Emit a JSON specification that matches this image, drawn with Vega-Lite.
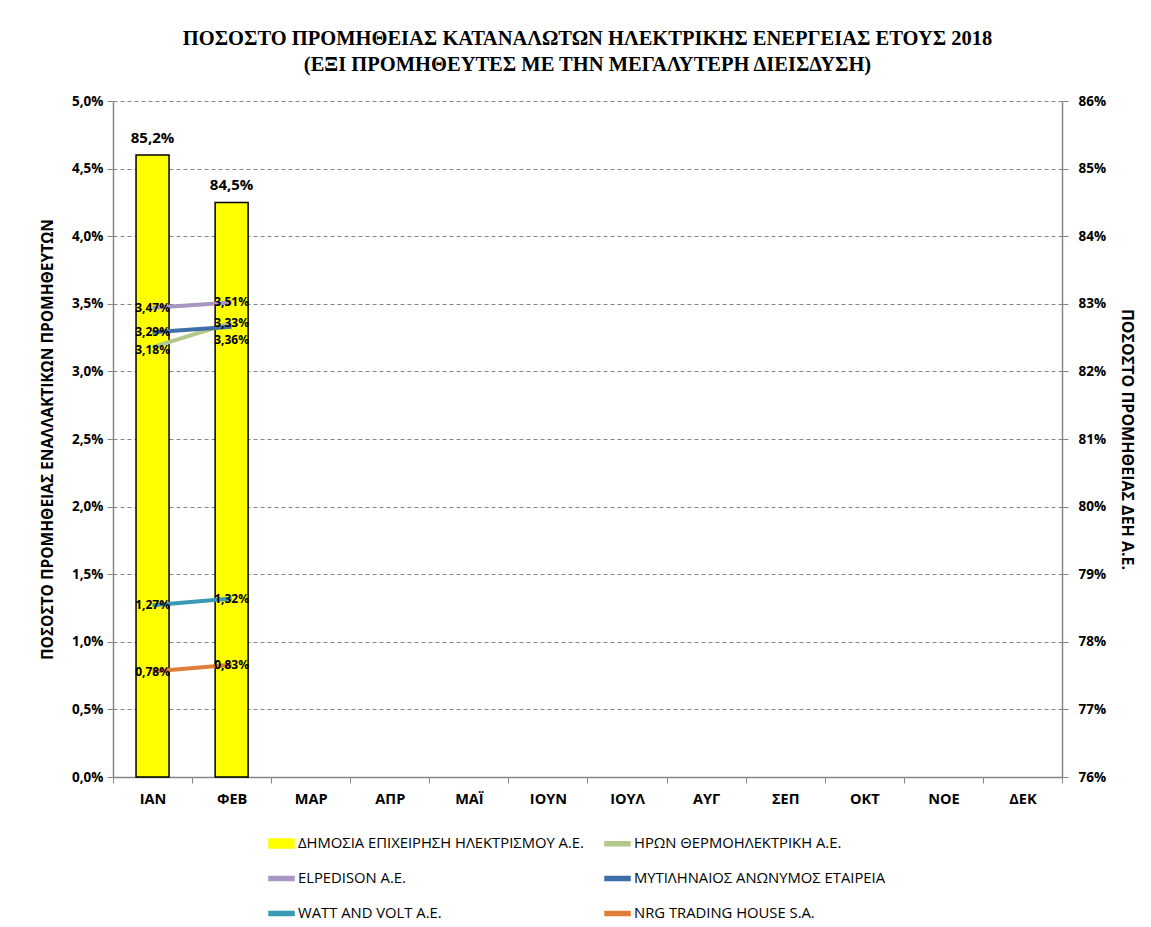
{
  "$schema": "https://vega.github.io/schema/vega-lite/v6.json",
  "width": 949,
  "height": 676,
  "autosize": {"type": "none"},
  "padding": {"left": 113, "top": 101, "right": 89, "bottom": 150},
  "background": "white",
  "title": {
    "text": ["ΠΟΣΟΣΤΟ ΠΡΟΜΗΘΕΙΑΣ ΚΑΤΑΝΑΛΩΤΩΝ ΗΛΕΚΤΡΙΚΗΣ ΕΝΕΡΓΕΙΑΣ ΕΤΟΥΣ 2018", "(ΕΞΙ ΠΡΟΜΗΘΕΥΤΕΣ ΜΕ ΤΗΝ ΜΕΓΑΛΥΤΕΡΗ ΔΙΕΙΣΔΥΣΗ)"],
    "font": "Liberation Serif",
    "fontSize": 20.5,
    "fontWeight": "bold",
    "color": "black",
    "lineHeight": 26,
    "offset": 19,
    "anchor": "middle"
  },
  "datasets": {
    "dei": [
      {"month": "ΙΑΝ", "series": "ΔΗΜΟΣΙΑ ΕΠΙΧΕΙΡΗΣΗ ΗΛΕΚΤΡΙΣΜΟΥ Α.Ε.", "value": 0.852},
      {"month": "ΦΕΒ", "series": "ΔΗΜΟΣΙΑ ΕΠΙΧΕΙΡΗΣΗ ΗΛΕΚΤΡΙΣΜΟΥ Α.Ε.", "value": 0.845}
    ],
    "others": [
      {"month": "ΙΑΝ", "series": "ΗΡΩΝ ΘΕΡΜΟΗΛΕΚΤΡΙΚΗ Α.Ε.", "value": 0.0318},
      {"month": "ΦΕΒ", "series": "ΗΡΩΝ ΘΕΡΜΟΗΛΕΚΤΡΙΚΗ Α.Ε.", "value": 0.0336},
      {"month": "ΙΑΝ", "series": "ELPEDISON Α.Ε.", "value": 0.0347},
      {"month": "ΦΕΒ", "series": "ELPEDISON Α.Ε.", "value": 0.0351},
      {"month": "ΙΑΝ", "series": "ΜΥΤΙΛΗΝΑΙΟΣ ΑΝΩΝΥΜΟΣ ΕΤΑΙΡΕΙΑ", "value": 0.0329},
      {"month": "ΦΕΒ", "series": "ΜΥΤΙΛΗΝΑΙΟΣ ΑΝΩΝΥΜΟΣ ΕΤΑΙΡΕΙΑ", "value": 0.0333},
      {"month": "ΙΑΝ", "series": "WATT AND VOLT Α.Ε.", "value": 0.0127},
      {"month": "ΦΕΒ", "series": "WATT AND VOLT Α.Ε.", "value": 0.0132},
      {"month": "ΙΑΝ", "series": "NRG TRADING HOUSE S.A.", "value": 0.0078},
      {"month": "ΦΕΒ", "series": "NRG TRADING HOUSE S.A.", "value": 0.0083}
    ]
  },
  "layer": [
    {
      "data": {"name": "dei"},
      "encoding": {
        "x": {"field": "month", "type": "nominal"},
        "y": {
          "field": "value", "type": "quantitative",
          "scale": {"domain": [0.76, 0.86], "zero": false, "nice": false, "clamp": true},
          "axis": {
            "orient": "right", "format": ".0%", "values": [0.76,0.77,0.78,0.79,0.80,0.81,0.82,0.83,0.84,0.85,0.86],
            "labelOverlap": false, "grid": false, "title": "ΠΟΣΟΣΤΟ ΠΡΟΜΗΘΕΙΑΣ ΔΕΗ Α.Ε.",
            "titlePadding": 13, "labelPadding": 10, "titleFontSize": 16
          }
        }
      },
      "layer": [
        {
          "mark": {"type": "bar", "size": 33, "stroke": "black", "strokeWidth": 1.5},
          "encoding": {
            "y2": {"datum": 0.76},
            "color": {"field": "series", "type": "nominal"}
          }
        },
        {
          "mark": {"type": "text", "baseline": "bottom", "dy": -9, "fontSize": 15, "fontWeight": "bold", "font": "Open Sans"},
          "encoding": {
            "text": {"field": "value", "type": "quantitative", "format": ".1%"},
            "color": {"value": "black"}
          }
        }
      ]
    },
    {
      "data": {"name": "others"},
      "encoding": {
        "x": {"field": "month", "type": "nominal"},
        "y": {
          "field": "value", "type": "quantitative",
          "scale": {"domain": [0, 0.05], "nice": false},
          "axis": {
            "orient": "left", "format": ".1%", "values": [0,0.005,0.01,0.015,0.02,0.025,0.03,0.035,0.04,0.045,0.05],
            "labelOverlap": false, "grid": true, "title": "ΠΟΣΟΣΤΟ ΠΡΟΜΗΘΕΙΑΣ ΕΝΑΛΛΑΚΤΙΚΩΝ ΠΡΟΜΗΘΕΥΤΩΝ",
            "titlePadding": 16, "labelPadding": 4, "titleFontSize": 15.5
          }
        }
      },
      "layer": [
        {
          "mark": {"type": "line", "strokeWidth": 4},
          "encoding": {
            "color": {"field": "series", "type": "nominal"}
          }
        },
        {
          "transform": [{"filter": "datum.series !== 'ΗΡΩΝ ΘΕΡΜΟΗΛΕΚΤΡΙΚΗ Α.Ε.' && !(datum.series === 'ΜΥΤΙΛΗΝΑΙΟΣ ΑΝΩΝΥΜΟΣ ΕΤΑΙΡΕΙΑ' && datum.month === 'ΦΕΒ')"}],
          "mark": {"type": "text", "baseline": "middle", "fontSize": 12, "fontWeight": "bold", "font": "Open Sans"},
          "encoding": {
            "text": {"field": "value", "type": "quantitative", "format": ".2%"},
            "color": {"value": "black"}
          }
        },
        {
          "transform": [{"filter": "datum.series === 'ΜΥΤΙΛΗΝΑΙΟΣ ΑΝΩΝΥΜΟΣ ΕΤΑΙΡΕΙΑ' && datum.month === 'ΦΕΒ'"}],
          "mark": {"type": "text", "baseline": "middle", "dy": -4, "fontSize": 12, "fontWeight": "bold", "font": "Open Sans"},
          "encoding": {
            "text": {"field": "value", "type": "quantitative", "format": ".2%"},
            "color": {"value": "black"}
          }
        },
        {
          "transform": [{"filter": "datum.series === 'ΗΡΩΝ ΘΕΡΜΟΗΛΕΚΤΡΙΚΗ Α.Ε.' && datum.month === 'ΙΑΝ'"}],
          "mark": {"type": "text", "baseline": "middle", "dy": 3, "fontSize": 12, "fontWeight": "bold", "font": "Open Sans"},
          "encoding": {
            "text": {"field": "value", "type": "quantitative", "format": ".2%"},
            "color": {"value": "black"}
          }
        },
        {
          "transform": [{"filter": "datum.series === 'ΗΡΩΝ ΘΕΡΜΟΗΛΕΚΤΡΙΚΗ Α.Ε.' && datum.month === 'ΦΕΒ'"}],
          "mark": {"type": "text", "baseline": "middle", "dy": 17, "fontSize": 12, "fontWeight": "bold", "font": "Open Sans"},
          "encoding": {
            "text": {"field": "value", "type": "quantitative", "format": ".2%"},
            "color": {"value": "black"}
          }
        }
      ]
    }
  ],
  "encoding": {
    "x": {
      "field": "month", "type": "nominal",
      "scale": {"domain": ["ΙΑΝ","ΦΕΒ","ΜΑΡ","ΑΠΡ","ΜΑΪ","ΙΟΥΝ","ΙΟΥΛ","ΑΥΓ","ΣΕΠ","ΟΚΤ","ΝΟΕ","ΔΕΚ"], "paddingInner": 0, "paddingOuter": 0},
      "axis": {"title": null, "labelAngle": 0, "ticks": true, "tickBand": "extent", "tickSize": 6, "labelPadding": 9}
    },
    "color": {
      "field": "series", "type": "nominal",
      "scale": {
        "domain": ["ΔΗΜΟΣΙΑ ΕΠΙΧΕΙΡΗΣΗ ΗΛΕΚΤΡΙΣΜΟΥ Α.Ε.", "ΗΡΩΝ ΘΕΡΜΟΗΛΕΚΤΡΙΚΗ Α.Ε.", "ELPEDISON Α.Ε.", "ΜΥΤΙΛΗΝΑΙΟΣ ΑΝΩΝΥΜΟΣ ΕΤΑΙΡΕΙΑ", "WATT AND VOLT Α.Ε.", "NRG TRADING HOUSE S.A."],
        "range": ["#ffff00", "#b3c98c", "#a796c4", "#3f6ea8", "#3a9ab6", "#e07d3a"]
      },
      "legend": {
        "orient": "none", "legendX": 155, "legendY": 729,
        "columns": 2, "direction": "horizontal", "title": null,
        "labelFont": "Open Sans", "labelFontSize": 14.8, "labelColor": "black", "labelLimit": 0,
        "symbolSize": 625, "symbolOffset": 0, "labelOffset": 3,
        "rowPadding": 14, "columnPadding": 18,
        "encode": {
          "symbols": {
            "update": {
              "shape": {"signal": "datum.value === 'ΔΗΜΟΣΙΑ ΕΠΙΧΕΙΡΗΣΗ ΗΛΕΚΤΡΙΣΜΟΥ Α.Ε.' ? 'M-1,-0.36H1V0.36H-1Z' : 'M-1,-0.16H1V0.16H-1Z'"},
              "fill": {"scale": "color", "field": "value"},
              "stroke": {"signal": "datum.value === 'ΔΗΜΟΣΙΑ ΕΠΙΧΕΙΡΗΣΗ ΗΛΕΚΤΡΙΣΜΟΥ Α.Ε.' ? 'black' : 'transparent'"},
              "strokeWidth": {"value": 1.5},
              "opacity": {"value": 1},
              "fillOpacity": {"value": 1}
            }
          }
        }
      }
    }
  },
  "resolve": {"scale": {"y": "independent"}},
  "config": {
    "locale": {"number": {"decimal": ",", "thousands": ".", "grouping": [3], "currency": ["", " €"]}},
    "view": {"stroke": null},
    "axis": {
      "labelFont": "Open Sans", "labelFontSize": 13.5, "labelFontWeight": "bold", "labelColor": "black",
      "titleFont": "Open Sans", "titleFontWeight": "bold", "titleColor": "black",
      "domainColor": "#868686", "domainWidth": 1.5, "tickColor": "#868686", "tickSize": 6, "tickWidth": 1,
      "gridColor": "#868686", "gridDash": [4, 3], "gridWidth": 1
    },
    "axisX": {"labelFontSize": 14.5}
  }
}
